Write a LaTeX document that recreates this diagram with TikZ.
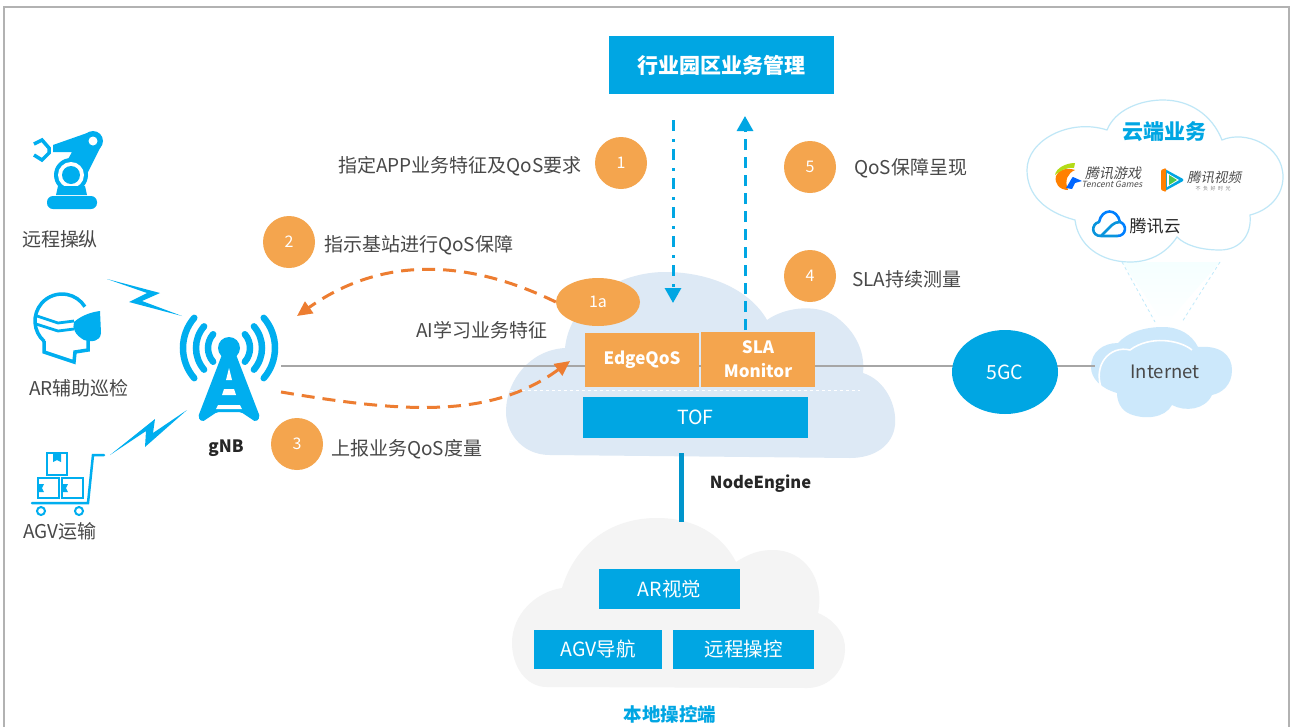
\documentclass[tikz,border=0pt]{standalone}
\usepackage{fontspec}
\usepackage{xcolor}
\setmainfont{Noto Sans CJK SC}
\newfontfamily\slantfont[FakeSlant=0.2]{Noto Sans CJK SC}
\usetikzlibrary{shapes.geometric,arrows.meta,shadings}
\definecolor{skyblue}{HTML}{00A6E3}
\definecolor{iconblue}{HTML}{00AEEF}
\definecolor{dotorange}{HTML}{F4A54E}
\definecolor{arroworange}{HTML}{ED7D31}
\definecolor{txtgray}{HTML}{484848}
\definecolor{edgecloud}{HTML}{DDE9F5}
\definecolor{localcloud}{HTML}{F4F4F4}
\definecolor{netcloud}{HTML}{CCE8FB}
\definecolor{rimblue}{HTML}{BFE7F7}
\tikzset{
  lbl/.style={text=txtgray,font=\fontsize{19}{21}\selectfont,inner sep=0pt},
  numdot/.style={circle,fill=dotorange,text=white,minimum size=52pt,inner sep=0pt,font=\fontsize{16}{18}\selectfont},
  orangebox/.style={fill=dotorange,text=white,align=center,inner sep=0pt,font=\fontsize{17}{24}\selectfont\bfseries},
  bluebox/.style={fill=skyblue,text=white,inner sep=0pt,font=\fontsize{19.5}{22}\selectfont},
  flowline/.style={arroworange,line width=3pt,dash pattern=on 13pt off 8pt,-{Triangle[length=15pt,width=14pt]}},
  bolt/.style={fill=iconblue}
}
\begin{document}
\begin{tikzpicture}[x=1pt,y=-1pt]
  \useasboundingbox (0,0) rectangle (1291,726);
  \fill[white] (0,0) rectangle (1291,726);
  \draw[gray!60,line width=1.2pt] (4,730) -- (4,7) -- (1289,7) -- (1289,730);

  % clouds
  \fill[edgecloud] (565,348) .. controls (570,300) and (620,272) .. (665,272)
    .. controls (710,272) and (750,290) .. (767,320)
    .. controls (785,307) and (820,302) .. (840,320)
    .. controls (858,335) and (865,355) .. (863,373)
    .. controls (885,380) and (897,405) .. (895,425)
    .. controls (893,445) and (875,458) .. (850,458)
    -- (550,455) .. controls (520,455) and (505,430) .. (506,410)
    .. controls (507,380) and (530,350) .. (565,348) -- cycle;
  \fill[localcloud] (562,588) .. controls (575,545) and (610,518) .. (657,518)
    .. controls (695,518) and (722,535) .. (736,562)
    .. controls (750,553) and (760,550) .. (773,550)
    .. controls (805,550) and (825,580) .. (818,613)
    .. controls (835,620) and (846,635) .. (845,650)
    .. controls (844,675) and (825,688) .. (807,688)
    -- (547,687) .. controls (525,687) and (512,665) .. (512,643)
    .. controls (512,615) and (535,592) .. (562,588) -- cycle;
  \shade[top color=cyan!4,bottom color=white] (1122,262) -- (1220,262) -- (1165,325) -- cycle;
  \draw[cyan!25,dashed,line width=0.8pt] (1122,262) -- (1155,322);
  \draw[cyan!25,dashed,line width=0.8pt] (1220,262) -- (1182,322);
  \filldraw[fill=white,draw=rimblue,line width=1.2pt] (1107,130)
    .. controls (1115,110) and (1140,100) .. (1163,100)
    .. controls (1190,100) and (1212,115) .. (1222,140)
    .. controls (1245,130) and (1283,145) .. (1283,177)
    .. controls (1283,195) and (1270,210) .. (1250,215)
    .. controls (1252,235) and (1240,250) .. (1220,250)
    .. controls (1200,250) and (1185,245) .. (1177,237)
    .. controls (1165,255) and (1148,262) .. (1130,262)
    .. controls (1100,262) and (1078,245) .. (1075,220)
    .. controls (1045,212) and (1027,195) .. (1027,170)
    .. controls (1027,140) and (1070,118) .. (1107,130) -- cycle;
  \fill[netcloud] (1118,343) .. controls (1128,332) and (1145,327) .. (1163,327)
    .. controls (1180,327) and (1192,335) .. (1198,347)
    .. controls (1220,345) and (1232,355) .. (1232,370)
    .. controls (1232,385) and (1222,393) .. (1212,395)
    .. controls (1205,410) and (1185,412) .. (1172,405)
    .. controls (1165,418) and (1145,420) .. (1130,414)
    .. controls (1120,410) and (1117,400) .. (1117,393)
    .. controls (1100,388) and (1091,378) .. (1091,367)
    .. controls (1091,352) and (1103,343) .. (1118,343) -- cycle;
  \draw[white,line width=1.6pt] (1102,390) .. controls (1092,365) and (1110,345) .. (1130,350)
    .. controls (1150,335) and (1180,340) .. (1192,350);

  % lines between the boxes
  \coordinate (gnbout) at (281,366);
  \coordinate (netin) at (1095,366);
  \coordinate (enginetop) at (681.5,453);
  \coordinate (enginebot) at (681.5,522);
  \path[draw=gray!70,line width=1.2pt] (gnbout) -- (netin);
  \path[draw=white,dashed,line width=0.8pt] (510,390) -- (860,390);
  \path[draw=skyblue!90!black,line width=5pt] (enginetop) -- (enginebot);

  % boxes
  \node[bluebox,minimum width=225pt,minimum height=58pt,font=\fontsize{21}{24}\selectfont\bfseries] (mgmt) at (721.5,65) {行业园区业务管理};
  \node[orangebox,minimum width=114pt,minimum height=54pt] (edgeqos) at (642,360) {EdgeQoS};
  \node[orangebox,minimum width=114pt,minimum height=55pt] (slamon) at (758,359.5) {SLA\\Monitor};
  \node[bluebox,minimum width=225pt,minimum height=41pt] (tof) at (695.5,417.5) {TOF};
  \node[bluebox,minimum width=141pt,minimum height=40pt] (arview) at (669.5,589) {AR视觉};
  \node[bluebox,minimum width=128pt,minimum height=39pt] (agvnav) at (598,649.5) {AGV导航};
  \node[bluebox,minimum width=141pt,minimum height=39pt] (remote) at (743.5,649.5) {远程操控};
  \node[ellipse,fill=skyblue,text=white,minimum width=106pt,minimum height=84pt,inner sep=0pt,font=\fontsize{19.5}{22}\selectfont] (fivegc) at (1005,372) {5GC};
  \node[text=txtgray,inner sep=0pt,font=\fontsize{18.5}{20}\selectfont] (internet) at (1165,372) {Internet};

  % numbered dots
  \node[numdot] (one) at (621,163) {1};
  \node[numdot] (two) at (289,242) {2};
  \node[numdot] (three) at (297,444) {3};
  \node[numdot] (four) at (810,276) {4};
  \node[numdot] (five) at (810,167) {5};
  \node[ellipse,fill=dotorange,text=white,minimum width=84pt,minimum height=48pt,inner sep=0pt,font=\fontsize{16}{18}\selectfont] (onea) at (598,302) {1a};

  % labels
  \node[lbl,anchor=west] (specify) at (338,166.5) {指定APP业务特征及QoS要求};
  \node[lbl,anchor=west] (guarantee) at (324,245) {指示基站进行QoS保障};
  \node[lbl,anchor=west] (learn) at (416,330) {AI学习业务特征};
  \node[lbl,anchor=west] (report) at (331,449) {上报业务QoS度量};
  \node[lbl,anchor=west] (present) at (854,168) {QoS保障呈现};
  \node[lbl,anchor=west] (measure) at (852,279) {SLA持续测量};
  \node[lbl] (arm) at (60,239) {远程操纵};
  \node[lbl] (inspect) at (79,388) {AR辅助巡检};
  \node[lbl] (agv) at (60,531) {AGV运输};
  \node[inner sep=0pt,text=black!85,font=\fontsize{17}{20}\selectfont\bfseries] (gnb) at (226,448) {gNB};
  \node[inner sep=0pt,text=black!85,font=\fontsize{16.5}{20}\selectfont\bfseries] (engine) at (760.5,484) {NodeEngine};
  \node[inner sep=0pt,text=skyblue,font=\fontsize{18.5}{20}\selectfont\bfseries] (local) at (670,714) {本地操控端};
  \node[inner sep=0pt,text=skyblue,font=\fontsize{21}{24}\selectfont\bfseries] (cloudsvc) at (1164,132) {云端业务};

  % arrows
  \coordinate (dnfrom) at (673,120);
  \coordinate (dnto) at (673,303);
  \coordinate (upfrom) at (745,330);
  \coordinate (upto) at (745,116);
  \coordinate (gnbup) at (297,316);
  \coordinate (gnbdown) at (281,392);
  \coordinate (edgein) at (570,361);
  \path[draw=skyblue,line width=3pt,dash pattern=on 11pt off 8pt on 3pt off 7pt,-{Triangle[length=15pt,width=16pt]}] (dnfrom) -- (dnto);
  \path[draw=skyblue,line width=3pt,dash pattern=on 11pt off 7pt,-{Triangle[length=15pt,width=16pt]}] (upfrom) -- (upto);
  \draw[flowline] (onea.west) .. controls (480,265) and (390,250) .. (gnbup);
  \draw[flowline] (gnbdown) .. controls (400,412) and (490,420) .. (edgein);

  % gNB mast
  \fill[iconblue] (229,348) circle[radius=11pt];
  \fill[iconblue,rounded corners=2pt] (223,352) -- (198,417) -- (202,422) -- (217,412) -- (241,412) -- (256,422) -- (260,417) -- (235,352) -- cycle;
  \fill[white] (229,368) -- (232,380) -- (226,380) -- cycle;
  \fill[white] (224,389) -- (234,389) -- (236,395) -- (222,395) -- cycle;
  \fill[white] (218,405) -- (240,405) -- (242,409) -- (216,409) -- cycle;
  \foreach \r in {21,33,46}{
    \draw[iconblue,line width=6.5pt,line cap=round] (229,348) ++(-41:\r pt) arc[start angle=-41,end angle=41,radius=\r pt];
    \draw[iconblue,line width=6.5pt,line cap=round] (229,348) ++(139:\r pt) arc[start angle=139,end angle=221,radius=\r pt];
  }

  % bolts
  \fill[bolt] (107,279) -- (160,293) -- (142,301) -- (182,316) -- (129,302) -- (147,293) -- cycle;
  \fill[bolt] (110,455) -- (155,419) -- (153,433) -- (187,410) -- (145,447) -- (146,431) -- cycle;

  % arm
  \draw[iconblue,line width=3.5pt] (34,144) -- (42,140) -- (49,148) -- (49,153) -- (42,160) -- (34,155);
  \fill[iconblue] (53,145) -- (90,132) -- (101,146) -- (83,182) -- (62,170) -- (72,152) -- (53,152) -- cycle;
  \fill[iconblue] (93,141) circle[radius=10pt];
  \fill[white] (93,141) circle[radius=4.5pt];
  \fill[iconblue] (71,175) circle[radius=17pt];
  \fill[white] (71,175) circle[radius=13pt];
  \fill[iconblue] (71,175) circle[radius=9pt];
  \fill[iconblue] (58,186) -- (85,186) -- (87,195) -- (56,195) -- cycle;
  \fill[iconblue,rounded corners=6pt] (47,196) rectangle (97,209);

  % goggles head
  \draw[iconblue,line width=3.5pt] (62,321) ++(229:27pt) arc[start angle=229,end angle=32,radius=27pt];
  \draw[iconblue,line width=3.5pt] (88,338) -- (88,350) -- (75,352) -- (74,362) -- (44,352) -- (44,341);
  \fill[iconblue] (74,322) .. controls (82,315) and (92,312) .. (100,311) -- (101,333) .. controls (100,342) and (92,342) .. (84,340) .. controls (75,335) and (72,328) .. (74,322) -- cycle;
  \draw[iconblue,line width=2.8pt] (37,316) -- (58,323) -- (74,321);
  \draw[iconblue,line width=2.8pt] (36,324) -- (58,331) -- (74,329);

  % cart
  \draw[iconblue,line width=2pt] (47,453) rectangle (67,475);
  \draw[iconblue,line width=2pt] (38,478) rectangle (59,498);
  \draw[iconblue,line width=2pt] (62,478) rectangle (83,498);
  \fill[iconblue] (53,454) -- (61,454) -- (61,462) -- (57,460) -- (53,462) -- cycle;
  \fill[iconblue] (38,484) -- (44,484) -- (42,488) -- (44,492) -- (38,492) -- cycle;
  \fill[iconblue] (62,484) -- (68,484) -- (66,488) -- (68,492) -- (62,492) -- cycle;
  \draw[iconblue,line width=2.5pt,line cap=round] (32,503) -- (88,503) -- (93,455) -- (104,455);
  \draw[iconblue,line width=2pt] (41,511) circle[radius=4pt] (79,511) circle[radius=4pt];

  % cloud service logos
  \fill[orange] (1056,176) .. controls (1058,170) and (1066,167) .. (1075,170) .. controls (1068,173) and (1064,180) .. (1068,190) .. controls (1060,190) and (1054,184) .. (1056,176) -- cycle;
  \fill[yellow!70!green] (1055,175) .. controls (1056,168) and (1066,163) .. (1075,163) -- (1074,168) .. controls (1066,167) and (1060,171) .. (1055,175) -- cycle;
  \fill[blue!60!cyan] (1066,188) .. controls (1070,182) and (1072,177) .. (1073,177) -- (1082,181) -- (1075,183) -- (1072,189) -- cycle;
  \node[inner sep=0pt,text=black!70,font=\fontsize{14}{15}\selectfont\slantfont] (gamecn) at (1113,173) {腾讯游戏};
  \node[inner sep=0pt,text=black!70,font=\fontsize{8.5}{9}\selectfont\slantfont] (gameen) at (1112,184) {Tencent Games};
  \fill[skyblue,rounded corners=3pt] (1163,168) -- (1185,180) -- (1163,192) -- cycle;
  \fill[orange,rounded corners=1pt] (1161,170) -- (1166,168) -- (1166,192) -- (1161,190) -- cycle;
  \fill[white] (1167,173) -- (1179,180) -- (1167,187) -- cycle;
  \fill[green!70!black!70] (1169,175) -- (1177,180) -- (1169,185) -- cycle;
  \node[inner sep=0pt,text=black!70,font=\fontsize{13.5}{14}\selectfont\slantfont] (videocn) at (1214,177) {腾讯视频};
  \node[inner sep=0pt,text=black!50,font=\fontsize{5}{6}\selectfont] (videoen) at (1213,189) {不\,\,\,负\,\,\,好\,\,\,时\,\,\,光};
  \draw[blue!50!cyan,line width=2.6pt,line cap=round] (1099,222) .. controls (1102,208) and (1117,208) .. (1120,222) .. controls (1127,224) and (1127,236) .. (1117,236);
  \draw[cyan!80!blue,line width=2.6pt,line cap=round] (1099,222) .. controls (1091,224) and (1091,236) .. (1101,236) -- (1117,236);
  \draw[cyan!80!blue,line width=2.6pt,line cap=round] (1101,236) -- (1112,225) .. controls (1114,223) and (1117,222) .. (1120,222);
  \node[inner sep=0pt,text=black!85,font=\fontsize{17}{20}\selectfont] (tcloud) at (1155,226) {腾讯云};
\end{tikzpicture}
\end{document}
